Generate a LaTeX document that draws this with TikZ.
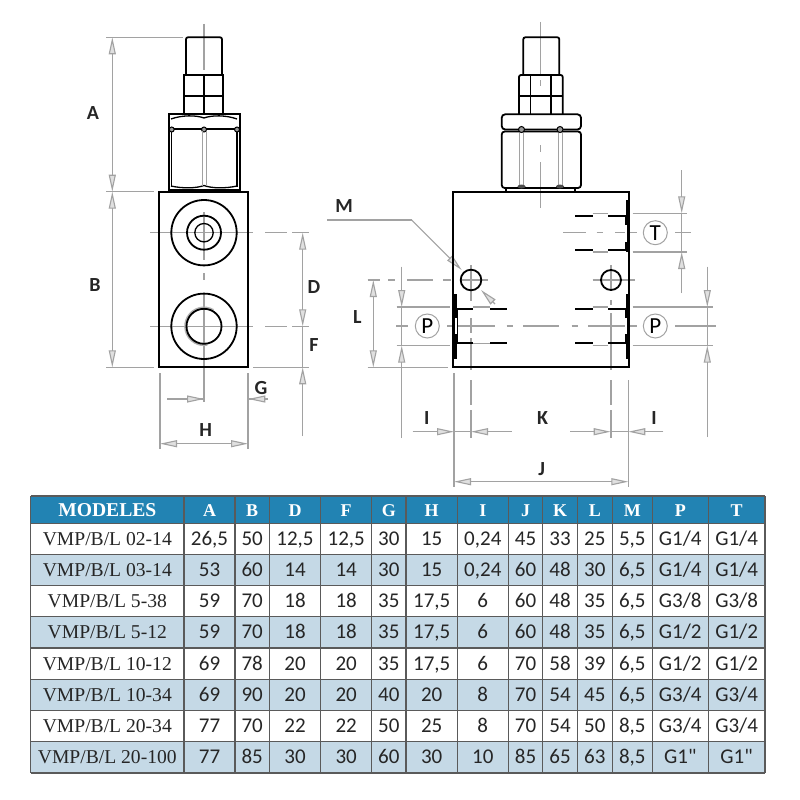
\documentclass[tikz,border=0pt]{standalone}
\usepackage{fontspec}
\setmainfont{Liberation Serif}
\newfontfamily\calfont{Carlito}
\usetikzlibrary{arrows.meta}
\definecolor{dimgray}{HTML}{A2A2A2}
\definecolor{headblue}{HTML}{2283B3}
\definecolor{rowblue}{HTML}{C5D9E6}
\definecolor{rulegray}{HTML}{5A5A5A}
\tikzset{
  part/.style={black, line width=1.8pt},
  thinpart/.style={black, line width=1.3pt},
  dim/.style={dimgray, line width=1.1pt, >={Triangle[length=17pt,width=7pt,fill=black!12]}},
  lab/.style={font=\calfont\bfseries\fontsize{20}{22}\selectfont, inner sep=0pt, text=black!85},
  portlab/.style={circle, draw=dimgray, line width=1pt, minimum size=24pt, inner sep=0pt, font=\calfont\fontsize{23}{24}\selectfont},
  cell/.style={inner sep=0pt, text height=13pt, text depth=0pt, text=black!85},
  datacell/.style={cell, font=\calfont\fontsize{21}{24}\selectfont},
  modelcell/.style={cell, font=\fontsize{19.6}{22}\selectfont},
  headcell/.style={cell, text=white, text height=12pt, font=\bfseries\fontsize{18}{20}\selectfont}
}
\begin{document}
\begin{tikzpicture}[x=1pt,y=-1pt]
   \useasboundingbox (0,0) rectangle (800,800);
   \fill[white] (0,0) rectangle (800,800);
   % center and extension lines
   \foreach \xa/\ya/\xb/\yb in {
     204/24/204/70, 204/212/204/260, 204/273/204/280, 204/293/204/401.7,
     150/232.7/253/232.7, 265/232.7/287/232.7, 292/232.7/309/232.7,
     150/326.3/253/326.3, 265/326.3/287/326.3, 292/326.3/309/326.3,
     253/367.3/309/367.3, 106/37.3/183/37.3, 106/191.7/154/191.7, 106/367.3/154/367.3,
     160/373.3/160/449, 248/373.3/248/449, 167/399/204/399, 248/399/268/399,
     540.7/22/540.7/75, 540.7/80/540.7/86, 540.7/145/540.7/152, 540.7/162/540.7/208,
     367.7/280/380/280, 388/280/395/280, 407/280/433/280, 443/280/451/280, 460/280/488/280,
     471/265/471/301, 471/318/471/333, 471/338/471/370, 471/380/471/405, 471/410/471/437.7,
     396/326/408/326, 447/326/495/326, 506.7/326/513/326, 523/326/559.3/326, 571.7/326/577.7/326, 588.3/326/637.3/326, 675/326/716/326,
     563/232.7/586/232.7, 596.7/232.7/602.7/232.7, 615/232.7/636.7/232.7, 675/232.7/691/232.7,
     592.7/280/635/280, 611/265/611/290, 611/300/611/305, 611/313/611/370, 611/380/611/405, 611/410/611/437.7,
     367.7/367.3/448.3/367.3, 396.7/307/450/307, 396.7/345.7/450/345.7,
     632.7/213.3/686.7/213.3, 632.7/252/686.7/252, 632.7/307/712.7/307, 632.7/345.7/712.7/345.7,
     454/373.3/454/487, 628.3/380/628.3/487,
     473.3/307/490/307, 473.3/343.3/490/343.3, 592.7/213.3/608.3/213.3, 592.7/252/608.3/252, 592.7/307/608.3/307, 592.7/345.7/608.3/345.7
   } \draw[dim] (\xa,\ya) -- (\xb,\yb);
   % dimension lines
   \draw[dim,<->] (112.3,37.3) -- (112.3,191.7);
   \draw[dim,<->] (112.3,191.7) -- (112.3,367.3);
   \draw[dim,<->] (302.7,232.7) -- (302.7,326.3);
   \draw[dim] (302.7,326.3) -- (302.7,367.3);
   \draw[dim,->] (302.7,436) -- (302.7,367.3);
   \draw[dim,->] (167,399) -- (204,399);
   \draw[dim,->] (268,399) -- (248.3,399);
   \draw[dim,<->] (160,443.7) -- (248,443.7);
   \draw[dim,<->] (373.3,280) -- (373.3,367.3);
   \draw[dim,->] (401.7,266.7) -- (401.7,307);
   \draw[dim] (401.7,307) -- (401.7,345.7);
   \draw[dim,->] (401.7,438) -- (401.7,345.7);
   \draw[dim,->] (681.7,170) -- (681.7,213.3);
   \draw[dim] (681.7,213.3) -- (681.7,252);
   \draw[dim,->] (681.7,293) -- (681.7,252);
   \draw[dim,->] (707.3,266.7) -- (707.3,307);
   \draw[dim] (707.3,307) -- (707.3,345.7);
   \draw[dim,->] (707.3,437) -- (707.3,345.7);
   \draw[dim,->] (412.7,431.7) -- (454,431.7);
   \draw[dim,<-] (471,431.7) -- (511.7,431.7);
   \draw[dim,->] (570,431.7) -- (610.7,431.7);
   \draw[dim,->] (663.3,431.7) -- (628.3,431.7);
   \draw[dim] (454,431.7) -- (471,431.7);
   \draw[dim] (610.7,431.7) -- (628.3,431.7);
   \draw[dim,<->] (454,481.7) -- (628.3,481.7);
   \draw[dim] (327.3,220) -- (411.7,220);
   \draw[dim,->] (411.7,220) -- (461.7,270);
   \draw[dim,->] (495,304) -- (481,290);
   % front view
   \draw[part, rounded corners=2pt] (186,75) -- (186,37.3) -- (222,37.3) -- (222,75);
   \draw[part] (184.3,75) rectangle (223.3,114.3);
   \draw[part] (184.3,96) -- (223.3,96);
   \draw[part] (204,75) -- (204,114.3);
   \draw[part] (168.7,114.3) rectangle (240,190);
   \draw[part] (168.7,129.3) -- (240,129.3);
   \draw[thinpart] (171.7,129.3) -- (171.7,187) (237,129.3) -- (237,187);
   \draw[thinpart] (171,119) .. controls (182,115) and (196,115) .. (204,118) .. controls (212,115) and (226,115) .. (237,119);
   \draw[thinpart] (171,186) .. controls (182,188.5) and (196,188.5) .. (204,185.5) .. controls (212,188.5) and (226,188.5) .. (237,186);
   \foreach \bx in {171.7,204,237} \filldraw[part, line width=1pt, fill=black!40] (\bx,129.5) circle [radius=2.5pt];
   \draw[dimgray, line width=1pt] (202,131) -- (202,186) (206,131) -- (206,186);
   \draw[part] (159.3,191.7) rectangle (248.3,367.3);
   \draw[part] (204,232.7) circle [radius=32.7pt];
   \draw[part] (204,232.7) circle [radius=17pt];
   \draw[thinpart, line width=1.3pt] (204,232.7) circle [radius=9.2pt];
   \draw[part] (204,326.3) circle [radius=32.7pt];
   \draw[black!30, line width=1.6pt] (204,326.3) ++(60:19pt) arc [start angle=60, end angle=280, radius=19pt];
   \draw[part] (204,326.3) circle [radius=17.5pt];
   % side view
   \draw[part, rounded corners=2pt] (523.3,75) -- (523.3,37.3) -- (559.3,37.3) -- (559.3,75);
   \draw[part, rounded corners=2pt] (519,114.3) -- (519,75) -- (562.7,75) -- (562.7,114.3);
   \draw[part] (519,96) -- (562.7,96);
   \draw[thinpart, line width=1.3pt] (530.7,75) -- (530.7,114.3) (551,75) -- (551,114.3);
   \draw[part, rounded corners=3.5pt] (501.7,114.3) rectangle (581,129.5);
   \draw[part, rounded corners=3pt] (501.7,131.5) rectangle (581,188);
   \foreach \bx in {521.5,560} {
     \draw[dimgray, line width=1pt] (\bx-2,133) -- (\bx-2,185) (\bx+2,133) -- (\bx+2,185);
     \filldraw[part, line width=1pt, fill=black!40] (\bx,129.5) circle [radius=3pt];
     \fill[black!70] (\bx,186.5) ellipse [x radius=4pt, y radius=2pt];
   }
   \draw[part] (506,188) -- (506,191.7) (575,188) -- (575,191.7);
   \draw[part] (453.3,191.7) rectangle (629.3,367.3);
   \draw[part] (471,280) circle [radius=10.3pt];
   \draw[part] (611,280) circle [radius=10pt];
   % ports
   \draw[black, line width=3.2pt] (455,294) -- (455,359.3);
   \draw[black, line width=3.2pt] (628,200) -- (628,251.7);
   \draw[black, line width=3.2pt] (628,294) -- (628,359.3);
   \foreach \py in {309,343.3} {
     \draw[part, line width=2pt] (455,\py) -- (473.3,\py);
     \draw[part, line width=2pt] (490,\py) -- (506.7,\py);
   }
   \foreach \py in {216,250,309,343.3} {
     \draw[part, line width=2pt] (575,\py) -- (592.7,\py);
     \draw[part, line width=2pt] (608.3,\py) -- (626,\py);
   }
   \draw[black, line width=2pt] (625.6,216) -- (625.6,250);
   \draw[black, line width=2pt] (625.6,309) -- (625.6,343.3);
   \draw[black, line width=2pt] (457.2,309) -- (457.2,343.3);
   \draw[white, line width=1.6pt] (455.7,318) -- (455.7,334);
   \draw[white, line width=1.6pt] (626.2,225) -- (626.2,241.7);
   \draw[white, line width=1.6pt] (626.2,318) -- (626.2,334);
   % labels
   \node[lab] (labA) at (93,113) {A};
   \node[lab] (labB) at (95,285) {B};
   \node[lab] (labD) at (314,287) {D};
   \node[lab] (labF) at (314,345) {F};
   \node[lab] (labG) at (261,388) {G};
   \node[lab] (labH) at (205.7,430) {H};
   \node[lab] (labM) at (344,206) {M};
   \node[lab] (labL) at (357.3,317) {L};
   \node[lab] (labIl) at (426.7,418) {I};
   \node[lab] (labK) at (542.7,418) {K};
   \node[lab] (labIr) at (654,418) {I};
   \node[lab] (labJ) at (541.7,469) {J};
   \node[portlab] (portPl) at (427.3,326) {P};
   \node[portlab] (portPr) at (655.3,326) {P};
   \node[portlab] (portT) at (655.3,232.7) {T};
   % table
   \fill[headblue] (30.7,496) rectangle (765,523.3);
   \foreach \ya/\yb in {554.3/585.6,616.8/648,679.3/710.5,741.7/773}
     \fill[rowblue] (30.7,\ya) rectangle (765,\yb);
   \foreach \colx in {30.7,184,235,269.3,320.7,371.7,406,457.3,508.3,542.7,577.3,612.3,652.3,708.3,765}
     \draw[rulegray, line width=1.2pt] (\colx,496) -- (\colx,773);
   \foreach \rowy in {496,523.3,554.3,585.6,616.8,648,679.3,710.5,741.7,773}
     \draw[rulegray, line width=1.2pt] (30.7,\rowy) -- (765,\rowy);
   \node[headcell, text height=13pt, font=\bfseries\fontsize{19.6}{22}\selectfont] (head0) at (107.3,510) {MODELES};
   \foreach \colname/\colmid [count=\c] in {A/209.5,B/252.2,D/295,F/346.2,G/388.8,H/431.7,I/482.8,J/525.5,K/560,L/594.8,M/632.3,P/680.3,T/736.6}
     \node[headcell] (head\c) at (\colmid,510) {\colname};
   \foreach \rowno/\ymid/\model/\vals in {
     1/538.8/02-14/{{26,5},50,{12,5},{12,5},30,15,{0,24},45,33,25,{5,5},G1/4,G1/4},
     2/570/03-14/{53,60,14,14,30,15,{0,24},60,48,30,{6,5},G1/4,G1/4},
     3/601.2/5-38/{59,70,18,18,35,{17,5},6,60,48,35,{6,5},G3/8,G3/8},
     4/632.4/5-12/{59,70,18,18,35,{17,5},6,60,48,35,{6,5},G1/2,G1/2},
     5/663.6/10-12/{69,78,20,20,35,{17,5},6,70,58,39,{6,5},G1/2,G1/2},
     6/694.9/10-34/{69,90,20,20,40,20,8,70,54,45,{6,5},G3/4,G3/4},
     7/726.1/20-34/{77,70,22,22,50,25,8,70,54,50,{8,5},G3/4,G3/4},
     8/757.3/20-100/{77,85,30,30,60,30,10,85,65,63,{8,5},G1",G1"}} {
     \node[modelcell] (row\rowno) at (107.3,\ymid) {VMP/B/L \model};
     \foreach \val [count=\c] in \vals {
       \pgfmathsetmacro\colmid{{209.5,252.2,295,346.2,388.8,431.7,482.8,525.5,560,594.8,632.3,680.3,736.6}[\c-1]}
       \node[datacell] (cell\rowno-\c) at (\colmid,\ymid) {\val};
     }
   }
\end{tikzpicture}
\end{document}
